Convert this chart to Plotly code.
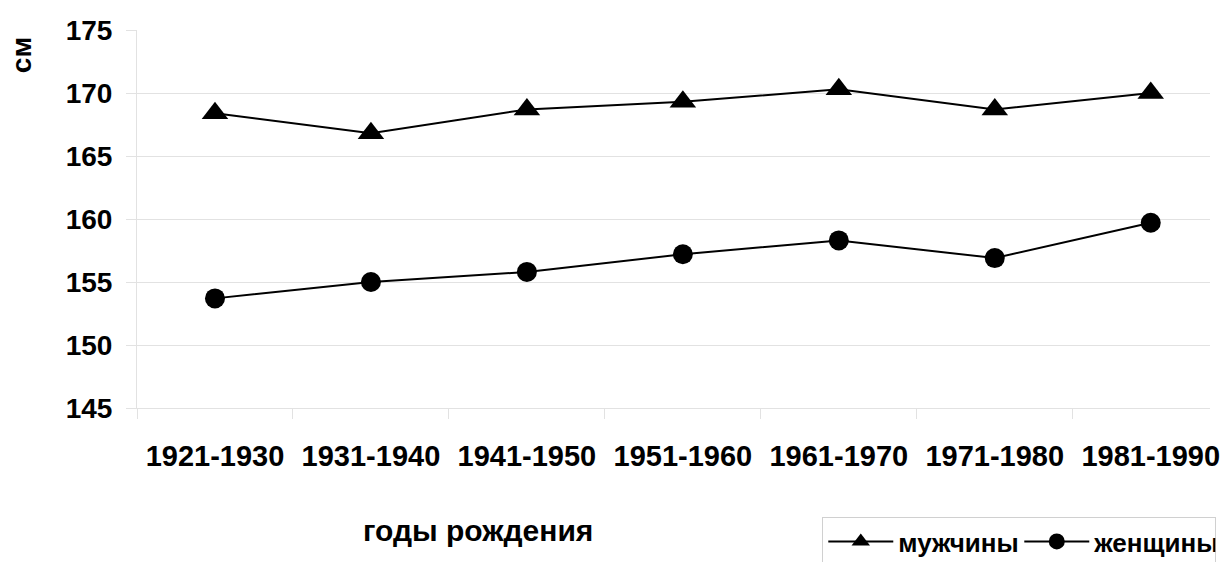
import plotly.graph_objects as go

FONT = "Liberation Sans, Arial, sans-serif"
GRID = "#e2e2e2"

periods = ["1921-1930", "1931-1940", "1941-1950", "1951-1960",
           "1961-1970", "1971-1980", "1981-1990"]
men = [168.4, 166.8, 168.7, 169.3, 170.3, 168.7, 170.0]
women = [153.7, 155.0, 155.8, 157.2, 158.3, 156.9, 159.7]

fig = go.Figure()

fig.add_trace(go.Scatter(
    x=periods, y=men, name="мужчины", mode="lines+markers",
    line=dict(color="#000000", width=2),
    marker=dict(symbol="triangle-up", size=23, color="#000000")
))

fig.add_trace(go.Scatter(
    x=periods, y=women, name="женщины", mode="lines+markers",
    line=dict(color="#000000", width=2),
    marker=dict(symbol="circle", size=20, color="#000000")
))

# axis titles placed like the original (not centred on the axes)
fig.add_annotation(
    text="см", xref="paper", yref="paper", x=-0.107, y=0.934,
    xanchor="center", yanchor="middle",
    textangle=-90, showarrow=False,
    font=dict(family=FONT, size=28, color="#000000", weight="bold")
)
fig.add_annotation(
    text="годы рождения", xref="paper", yref="paper", x=0.3176, y=-0.325,
    xanchor="center", yanchor="middle",
    showarrow=False,
    font=dict(family=FONT, size=30, color="#000000", weight="bold")
)

fig.update_layout(
    width=1220, height=562,
    margin=dict(l=137, r=0, t=30, b=154),
    plot_bgcolor="#ffffff", paper_bgcolor="#ffffff",
    font=dict(family=FONT, color="#000000", weight="bold"),
    showlegend=True,
    legend=dict(
        orientation="h", xref="container", yref="container",
        x=0.674, y=0.08, xanchor="left", yanchor="top",
        bordercolor="#d0d0d0", borderwidth=1, bgcolor="#ffffff",
        itemwidth=65, entrywidth=116, entrywidthmode="pixels",
        font=dict(family=FONT, size=26, color="#000000", weight="bold")
    ),
    xaxis=dict(
        type="category", range=[-0.5, 6.38],
        showgrid=False, zeroline=False,
        showline=True, linecolor=GRID, linewidth=1,
        ticks="outside", tickson="boundaries", ticklen=10, tickcolor=GRID,
        ticklabelstandoff=22,
        tickfont=dict(family=FONT, size=29, color="#000000", weight="bold")
    ),
    yaxis=dict(
        range=[145, 175], dtick=5,
        showgrid=True, gridcolor=GRID, gridwidth=1, zeroline=False,
        showline=True, linecolor=GRID, linewidth=1,
        ticks="outside", ticklen=10, tickcolor=GRID,
        ticklabelstandoff=8,
        tickfont=dict(family=FONT, size=28, color="#000000", weight="bold")
    )
)

# the page's default body margin would shift the chart by 8px
fig.write_html("out.html", config={"displayModeBar": False},
               post_script="document.body.style.margin='0';")
